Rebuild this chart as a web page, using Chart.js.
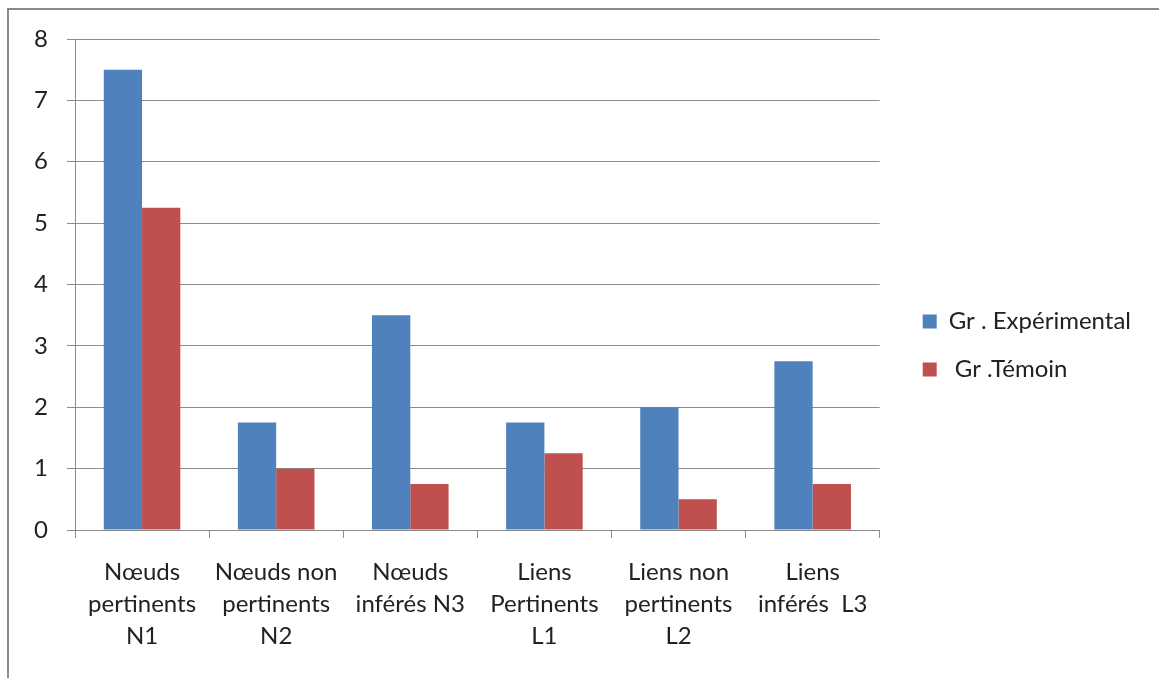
<!DOCTYPE html>
<html>
<head>
<meta charset="utf-8">
<script src="https://cdn.jsdelivr.net/npm/chart.js@4"></script>
<style>
  html, body { margin: 0; padding: 0; background: #fff; overflow: hidden; }
  #wrap { position: absolute; left: 0; top: 0; width: 1159px; height: 678px; }
  #frame { position: absolute; left: 7px; top: 8px; width: 1300px; height: 800px;
           border-top: 2px solid #8a8a8a; border-left: 2px solid #8a8a8a; }
  canvas { position: absolute; left: 0; top: 0; }
</style>
</head>
<body>
<div id="wrap">
  <div id="frame"></div>
  <canvas id="c" width="1159" height="678"></canvas>
</div>
<script>
// Categories (multi-line labels) and the two groups' scores
const categories = [
  ['Nœuds', 'pertinents', 'N1'],
  ['Nœuds non', 'pertinents', 'N2'],
  ['Nœuds', 'inférés N3'],
  ['Liens', 'Pertinents', 'L1'],
  ['Liens non', 'pertinents', 'L2'],
  ['Liens', 'inférés  L3']
];
const seriesNames = ['Gr . Expérimental', ' Gr .Témoin'];
const experimental = [7.5, 1.75, 3.5, 1.75, 2, 2.75];
const temoin = [5.25, 1, 0.75, 1.25, 0.5, 0.75];
const yTicks = [0, 1, 2, 3, 4, 5, 6, 7, 8];

const FONT = 'Lato, "Open Sans", sans-serif';
const TEXT = '#222';
const GRID = '#8c8c8c';

// Nudge the legend block into the right-hand padding after layout
const legendOffset = {
  id: 'legendOffset',
  afterLayout(chart) {
    const l = chart.legend;
    if (!l) return;
    const dx = 19, dy = -13;
    l.left += dx; l.right += dx;
    l.top += dy; l.bottom += dy;
  }
};

new Chart(document.getElementById('c'), {
  type: 'bar',
  data: {
    labels: categories,
    datasets: [
      { label: seriesNames[0], data: experimental, backgroundColor: '#4F81BD' },
      { label: seriesNames[1], data: temoin, backgroundColor: '#C0504D' }
    ]
  },
  plugins: [legendOffset],
  options: {
    responsive: false,
    animation: false,
    devicePixelRatio: 1,
    categoryPercentage: 0.571,
    barPercentage: 1,
    layout: { padding: { top: 39, left: 0, right: 37, bottom: 0 } },
    plugins: {
      tooltip: { enabled: false },
      legend: {
        position: 'right',
        align: 'center',
        labels: {
          boxWidth: 14,
          boxHeight: 14,
          padding: 24,
          color: TEXT,
          font: { family: FONT, size: 24 }
        }
      }
    },
    scales: {
      x: {
        grid: { display: true, drawOnChartArea: false, offset: true, color: GRID, tickLength: 8 },
        border: { display: true, color: GRID },
        ticks: {
          color: TEXT, padding: 18, maxRotation: 0, autoSkip: false,
          font: { family: FONT, size: 24, lineHeight: 1.33 }
        },
        afterFit: s => { s.height = 148; }
      },
      y: {
        min: 0, max: 8,
        afterBuildTicks: s => { s.ticks = yTicks.map(v => ({ value: v })); },
        grid: { color: GRID, tickLength: 8 },
        border: { display: true, color: GRID },
        ticks: {
          color: TEXT, padding: 19,
          font: { family: FONT, size: 24 }
        },
        afterFit: s => { s.width = 75; }
      }
    }
  }
});
</script>
</body>
</html>
